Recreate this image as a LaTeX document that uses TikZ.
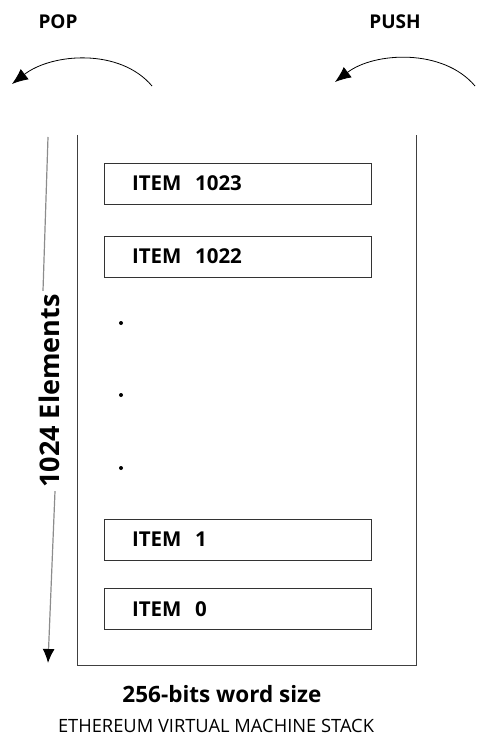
\documentclass[tikz,border=0pt]{standalone}
\usepackage{fontspec}
\setmainfont{Open Sans}
\usetikzlibrary{arrows.meta,positioning}

\begin{document}
\begin{tikzpicture}[x=1pt, y=-1pt,
  item/.style={draw=black!80, line width=0.9pt, minimum height=41pt, text width=211pt, inner xsep=28pt, align=left, font=\fontsize{20.5}{23}\selectfont\bfseries},
  title/.style={font=\fontsize{19}{22}\selectfont\bfseries},
  wall/.style={draw=black!75, line width=0.9pt},
  stackdot/.style={circle, fill=black, inner sep=0pt, minimum size=4pt}]
\useasboundingbox (0,0) rectangle (486,751);
% operations
\node[title] (pop) at (58,22) {POP};
\node[title] (push) at (395,22) {PUSH};
\coordinate (popA) at (152,86);
\coordinate (popB) at (12,84);
\coordinate (pushA) at (475,86);
\coordinate (pushB) at (335,82);
\draw[-{Latex[length=16pt,width=13pt]}, line width=0.8pt] (popA) .. controls (120,48) and (52,53) .. (popB);
\draw[-{Latex[length=16pt,width=13pt]}, line width=0.8pt] (pushA) .. controls (443,48) and (374,52) .. (pushB);
% stack walls
\coordinate (wallTL) at (77,135);
\coordinate (wallBL) at (77,665);
\coordinate (wallBR) at (416,665);
\coordinate (wallTR) at (416,135);
\draw[wall] (wallTL) -- (wallBL) -- (wallBR) -- (wallTR);
% items
\node[item] (i1023) at (237.5,183.5) {ITEM\ \ 1023};
\node[item] (i1022) at (237.5,256.5) {ITEM\ \ 1022};
\node[stackdot] (d1) at (121,323) {};
\node[stackdot] (d2) at (121,395) {};
\node[stackdot] (d3) at (121,468) {};
\node[item] (i1) at (237.5,539.5) {ITEM\ \ 1};
\node[item] (i0) at (237.5,609) {ITEM\ \ 0};
% size
\node[font=\fontsize{27}{30}\selectfont\bfseries, rotate=90] (elems) at (49,391) {1024 Elements};
\coordinate (elTop) at (48,137);
\coordinate (elBot) at (48,663);
\draw[black!45, line width=1.2pt] (elTop) -- ([xshift=-6pt]elems.east);
\draw[-{Latex[length=14pt,width=12pt,color=black]}, black!45, line width=1.2pt] ([xshift=6pt]elems.west) -- (elBot);
\node[font=\fontsize{22.5}{26}\selectfont\bfseries] (word) at (222,694) {256-bits word size};
\node[font=\fontsize{18.3}{22}\selectfont] (evm) at (216,726) {ETHEREUM VIRTUAL MACHINE STACK};
\end{tikzpicture}
\end{document}
